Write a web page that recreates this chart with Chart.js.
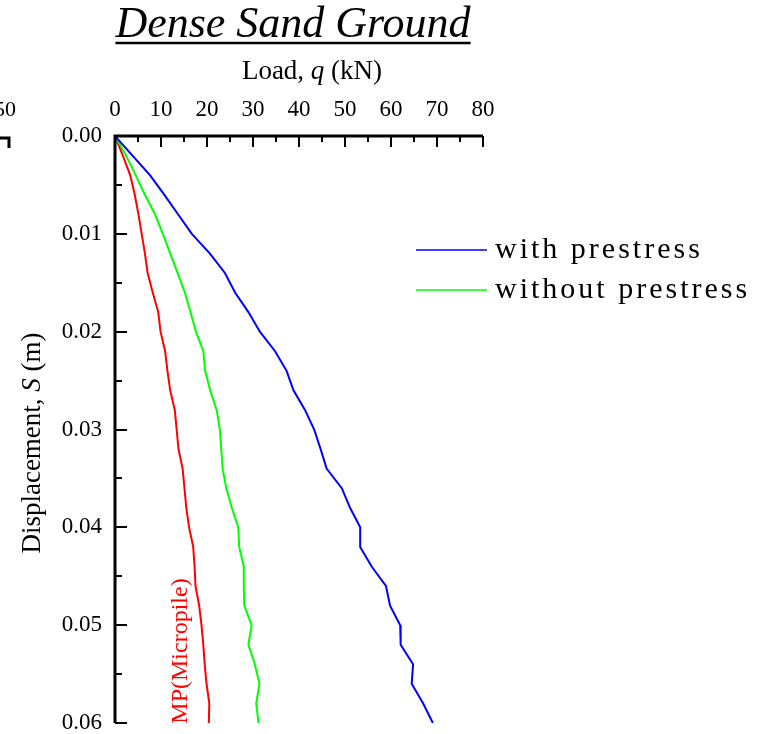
<!DOCTYPE html>
<html>
<head>
<meta charset="utf-8">
<script src="https://cdn.jsdelivr.net/npm/chart.js@4.4.1/dist/chart.umd.min.js"></script>
<style>
  html, body { margin: 0; padding: 0; background: #fff; }
  #wrap { width: 758px; height: 734px; position: relative; }
</style>
</head>
<body>
<div id="wrap"><canvas id="c" width="758" height="734"></canvas></div>
<script>
// Settlement S (m) sampled every 0.002 m
const displacement = [0,0.002,0.004,0.006,0.008,0.010,0.012,0.014,0.016,0.018,0.020,0.022,0.024,0.026,0.028,0.030,0.032,0.034,0.036,0.038,0.040,0.042,0.044,0.046,0.048,0.050,0.052,0.054,0.056,0.058,0.060];

// Load q (kN) at each settlement step
const loadWithPrestress = [0,3.8,7.6,10.7,13.7,16.7,20.6,23.9,26.1,29.0,31.5,34.8,37.3,38.8,41.3,43.3,44.7,46.0,49.3,51.1,53.3,53.3,55.8,58.9,59.8,62.0,62.1,64.8,64.5,67.0,69.1];
const loadWithoutPrestress = [0,2.4,4.5,6.5,8.7,10.4,12.0,13.6,15.2,16.4,17.6,19.2,19.6,20.7,22.1,22.8,23.1,23.4,24.2,25.4,26.8,27.0,28.0,28.0,28.1,29.7,29.0,30.4,31.4,30.7,31.2];
const loadMicropile = [0,1.7,3.3,4.3,5.1,5.8,6.5,7.1,8.2,9.4,9.9,10.9,11.4,12.0,13.0,13.4,13.8,14.7,15.1,15.5,16.1,17.0,17.3,17.5,18.3,18.8,19.2,19.5,19.9,20.5,20.4];

const xTicks = [0,10,20,30,40,50,60,70,80];
const yTicks = [0.00,0.01,0.02,0.03,0.04,0.05,0.06];

const SERIF = '"Liberation Serif", "Times New Roman", serif';

function pts(loads) {
  return loads.map((q, i) => ({ x: q, y: displacement[i] }));
}

const datasets = [
  { label: 'with prestress', data: pts(loadWithPrestress), borderColor: '#0000ff', showInLegend: true },
  { label: 'without prestress', data: pts(loadWithoutPrestress), borderColor: '#00ff00', showInLegend: true },
  { label: 'MP(Micropile)', data: pts(loadMicropile), borderColor: '#ff0000', showInLegend: false }
].map(d => Object.assign(d, { borderWidth: 2, pointRadius: 0, tension: 0, fill: false }));

// Frame, inward ticks, titles, legend and annotations
const decor = {
  id: 'decor',
  afterDraw(chart) {
    const ctx = chart.ctx;
    const xs = chart.scales.x, ys = chart.scales.y;
    const a = chart.chartArea;
    ctx.save();
    ctx.strokeStyle = '#000';
    ctx.fillStyle = '#000';
    ctx.lineCap = 'butt';

    // inward ticks on the top axis
    ctx.lineWidth = 2;
    for (let v = 0; v <= 80; v += 5) {
      const px = Math.round(xs.getPixelForValue(v));
      const len = (v % 10 === 0) ? 11 : 6;
      ctx.beginPath(); ctx.moveTo(px, a.top); ctx.lineTo(px, a.top + len); ctx.stroke();
    }
    // inward ticks on the left axis
    for (let k = 0; k <= 12; k++) {
      const v = k * 0.005;
      const py = Math.round(ys.getPixelForValue(v));
      const len = (k % 2 === 0) ? 12 : 7;
      ctx.beginPath(); ctx.moveTo(a.left, py); ctx.lineTo(a.left + len, py); ctx.stroke();
    }
    // axis lines
    ctx.lineWidth = 3;
    ctx.beginPath();
    ctx.moveTo(a.left, a.bottom);
    ctx.lineTo(a.left, a.top);
    ctx.lineTo(a.right, a.top);
    ctx.stroke();

    // title
    ctx.font = 'italic 44px ' + SERIF;
    ctx.textAlign = 'center';
    ctx.textBaseline = 'alphabetic';
    const title = 'Dense Sand Ground';
    const tx = 293, ty = 37;
    ctx.fillText(title, tx, ty);
    const tw = ctx.measureText(title).width;
    ctx.lineWidth = 2.5;
    ctx.beginPath(); ctx.moveTo(tx - tw / 2, ty + 6); ctx.lineTo(tx + tw / 2, ty + 6); ctx.stroke();

    // mixed upright / italic text runs
    function runs(parts, size) {
      let w = 0;
      parts.forEach(p => { ctx.font = (p[1] ? 'italic ' : '') + size + 'px ' + SERIF; w += ctx.measureText(p[0]).width; });
      return w;
    }
    function drawRuns(parts, size, x0, y0) {
      let x = x0;
      ctx.textAlign = 'left';
      parts.forEach(p => {
        ctx.font = (p[1] ? 'italic ' : '') + size + 'px ' + SERIF;
        ctx.fillText(p[0], x, y0);
        x += ctx.measureText(p[0]).width;
      });
    }
    const xt = [['Load, ', false], ['q', true], [' (kN)', false]];
    const xw = runs(xt, 27);
    ctx.textBaseline = 'alphabetic';
    drawRuns(xt, 27, 312 - xw / 2, 79);

    const yt = [['Displacement, ', false], ['S', true], [' (m)', false]];
    const yw = runs(yt, 27);
    ctx.save();
    ctx.translate(40, 443);
    ctx.rotate(-Math.PI / 2);
    drawRuns(yt, 27, -yw / 2, 0);
    ctx.restore();

    // curve annotation
    ctx.save();
    ctx.fillStyle = '#ff0000';
    ctx.font = '24px ' + SERIF;
    ctx.textAlign = 'center';
    ctx.textBaseline = 'middle';
    ctx.translate(181, 651);
    ctx.rotate(-Math.PI / 2);
    ctx.fillText('MP(Micropile)', 0, 0);
    ctx.restore();

    // legend
    ctx.font = '30px ' + SERIF;
    ctx.letterSpacing = '3px';
    ctx.textAlign = 'left';
    ctx.textBaseline = 'middle';
    let ly = 250;
    chart.data.datasets.filter(d => d.showInLegend).forEach(d => {
      ctx.strokeStyle = d.borderColor;
      ctx.lineWidth = 1.5;
      ctx.beginPath(); ctx.moveTo(416, ly); ctx.lineTo(487, ly); ctx.stroke();
      ctx.fillStyle = '#000';
      ctx.fillText(d.label, 495, ly);
      ly += 40;
    });
    ctx.letterSpacing = '0px';

    // edge of the neighbouring panel
    ctx.fillStyle = '#000';
    ctx.font = '22px ' + SERIF;
    ctx.textAlign = 'right';
    ctx.textBaseline = 'middle';
    ctx.fillText('50', 16, 110);
    ctx.strokeStyle = '#000';
    ctx.lineWidth = 3;
    ctx.beginPath(); ctx.moveTo(0, 138); ctx.lineTo(9, 138); ctx.lineTo(9, 148); ctx.stroke();

    ctx.restore();
  }
};

new Chart(document.getElementById('c'), {
  type: 'line',
  data: { datasets },
  options: {
    responsive: false,
    animation: false,
    layout: { padding: { left: 0, top: 0, right: 275, bottom: 11 } },
    plugins: { legend: { display: false }, title: { display: false }, tooltip: { enabled: false } },
    scales: {
      x: {
        type: 'linear', position: 'top', min: 0, max: 80,
        afterBuildTicks: s => { s.ticks = xTicks.map(v => ({ value: v })); },
        afterFit: s => { s.height = 136; s.paddingLeft = 0; s.paddingRight = 0; },
        grid: { display: false, drawTicks: false },
        border: { display: false },
        ticks: { color: '#000', font: { family: SERIF, size: 23 }, padding: 12, maxRotation: 0, autoSkip: false }
      },
      y: {
        type: 'linear', reverse: true, min: 0, max: 0.06,
        afterBuildTicks: s => { s.ticks = yTicks.map(v => ({ value: v })); },
        afterFit: s => { s.width = 115; s.paddingTop = 0; s.paddingBottom = 0; },
        grid: { display: false, drawTicks: false },
        border: { display: false },
        ticks: { color: '#000', font: { family: SERIF, size: 23 }, padding: 13, autoSkip: false,
                 callback: v => v.toFixed(2) }
      }
    }
  },
  plugins: [decor]
});
</script>
</body>
</html>
